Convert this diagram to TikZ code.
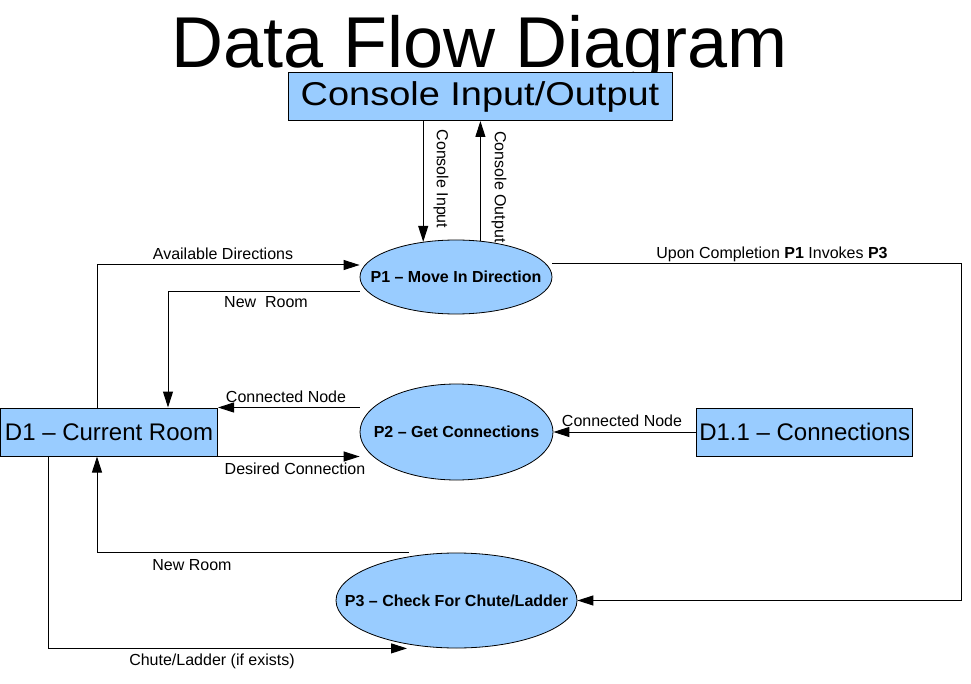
\documentclass[tikz,border=0pt]{standalone}
\usepackage{fontspec}
\setmainfont{Liberation Sans}
\usetikzlibrary{arrows.meta,shapes.geometric}
\definecolor{dfblue}{RGB}{153,204,255}
\begin{document}
\begin{tikzpicture}[x=1pt,y=-1pt,
  flow/.style={draw=black, line width=1pt, -{Triangle[length=16pt,width=10pt]}},
  store/.style={draw=black, line width=1pt, fill=dfblue, inner sep=0pt, font=\fontsize{24}{27}\selectfont},
  proc/.style={ellipse, draw=black, line width=0.8pt, fill=dfblue, inner sep=0pt, font=\fontsize{16}{19}\selectfont\bfseries},
  lbl/.style={inner sep=0pt, font=\fontsize{16}{19}\selectfont}]
\useasboundingbox (0,0) rectangle (971,684);
\fill[white] (0,0) rectangle (971,684);

\node[anchor=base, inner sep=0pt, font=\fontsize{72}{80}\selectfont] (title) at (479.5,68) {Data Flow Diagram};

\node[store, minimum width=384pt, minimum height=48pt] (cio) at (480,96.5) {\fontsize{33}{36}\selectfont\scalebox{1.15}[1]{Console Input/Output}};
\node[proc, minimum width=192pt, minimum height=74pt] (p1) at (456,277) {\makebox[0pt]{P1 – Move In Direction}};
\node[proc, minimum width=193pt, minimum height=96pt] (p2) at (456.5,432) {\makebox[0pt]{P2 – Get Connections}};
\node[proc, minimum width=241pt, minimum height=95pt] (p3) at (456.5,600.5) {\makebox[0pt]{P3 – Check For Chute/Ladder}};
\node[store, minimum width=217pt, minimum height=48pt] (d1) at (109,432) {D1 – Current Room};
\node[store, minimum width=216pt, minimum height=48pt] (d11) at (804.7,432) {D1.1 – Connections};

\coordinate (rc) at (961,600.5);

\draw[flow] (cio.south -| p1.133) -- (p1.133);
\draw[flow] (p1.56) -- (p1.56 |- cio.south);
\draw[flow] ([xshift=-12pt]d1.north) |- ([yshift=12pt]p1.west);
\draw[flow] ([yshift=-15pt]p1.west) -| ([xshift=59pt]d1.north);
\draw[flow] ([yshift=13pt]p1.east) -| (rc) -- (p3.east);
\draw[flow] (p2.west |- d1.north) -- (d1.north east);
\draw[flow] (d1.south east) -- (p2.west |- d1.south);
\draw[flow] (d11.west) -- (p2.east);
\draw[flow] ([xshift=-47.5pt]p3.north) -| ([xshift=-12pt]d1.south);
\draw[flow] ([xshift=-61pt]d1.south) |- ([xshift=-49.5pt]p3.south);

\node[lbl] (lad) at (223,254) {Available Directions};
\node[lbl] (lnr1) at (266,302) {New\ \ Room};
\node[lbl] (lcn1) at (286,397) {Connected Node};
\node[lbl] (ldc) at (295,469) {Desired Connection};
\node[lbl] (lcn2) at (622,421) {Connected Node};
\node[lbl] (luc) at (772,254) {Upon Completion \textbf{P1} Invokes \textbf{P3}};
\node[lbl] (lnr2) at (192,565) {New Room};
\node[lbl] (lcl) at (212,661) {Chute/Ladder (if exists)};
\node[lbl, rotate=-90] (lci) at (441,179) {Console Input};
\node[lbl, rotate=-90] (lco) at (499,187) {Console Output};
\end{tikzpicture}
\end{document}
